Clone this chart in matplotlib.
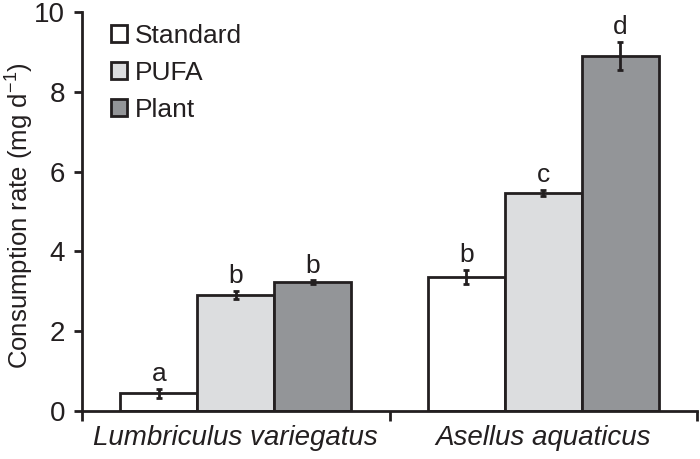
import matplotlib
matplotlib.use("Agg")
import matplotlib.pyplot as plt
import numpy as np

plt.rcParams['font.family'] = ['Liberation Sans', 'DejaVu Sans']
plt.rcParams['mathtext.fontset'] = 'custom'
plt.rcParams['mathtext.rm'] = 'Liberation Sans'

species = ["Lumbriculus variegatus", "Asellus aquaticus"]
diets = ["Standard", "PUFA", "Plant"]
means = {
    "Standard": [0.44, 3.36],
    "PUFA": [2.91, 5.46],
    "Plant": [3.23, 8.90],
}
errors = {
    "Standard": [0.12, 0.17],
    "PUFA": [0.10, 0.08],
    "Plant": [0.04, 0.35],
}
letters = {
    "Standard": ["a", "b"],
    "PUFA": ["b", "c"],
    "Plant": ["b", "d"],
}
colors = {"Standard": "#ffffff", "PUFA": "#dcdddf", "Plant": "#939598"}
ink = "#231f20"

fig = plt.figure(figsize=(7.0, 4.59), dpi=100)
ax = fig.add_axes([0.117, 0.1046, 0.879, 0.8694])

x = np.arange(len(species))
w = 0.25
for i, d in enumerate(diets):
    pos = x + (i - 1) * w
    ax.bar(pos, means[d], width=w, color=colors[d], edgecolor=ink,
           linewidth=2.0, label=d, zorder=2)
    ax.errorbar(pos, means[d], yerr=errors[d], fmt="none", ecolor=ink,
                elinewidth=2.0, capsize=2, capthick=2.0, zorder=3)
    for p, m, e, L in zip(pos, means[d], errors[d], letters[d]):
        ax.annotate(L, (p, m + e), xytext=(0, 2), textcoords="offset points",
                    ha="center", va="bottom", fontsize=19, color=ink)

ax.set_xlim(-0.5, 1.5)
ax.set_ylim(0, 10)
ax.set_yticks([0, 2, 4, 6, 8, 10])
ax.set_xticks(x)
ax.set_xticklabels(species, fontsize=20, style="italic", color=ink)
ax.tick_params(axis="x", which="major", length=0, pad=10)
ax.set_xticks([-0.5, 0.5, 1.5], minor=True)
ax.tick_params(axis="x", which="minor", length=7, width=2, color=ink, direction="out")
ax.tick_params(axis="y", labelsize=20, length=6, width=2, color=ink,
               labelcolor=ink, direction="out", pad=6)
for s in ["top", "right"]:
    ax.spines[s].set_visible(False)
for s in ["left", "bottom"]:
    ax.spines[s].set_linewidth(2)
    ax.spines[s].set_color(ink)
ax.set_ylabel("Consumption rate (mg d$^{\\mathrm{-1}}$)", fontsize=18.5, color=ink)
ax.yaxis.set_label_coords(-0.077, 0.49)

leg = ax.legend(loc="upper left", bbox_to_anchor=(0.022, 1.01), frameon=False,
                fontsize=19, handlelength=0.6, handleheight=0.6,
                handletextpad=0.3, labelspacing=0.5, borderaxespad=0.2)
for t in leg.get_texts():
    t.set_color(ink)

fig.savefig("out.png", dpi=100)
